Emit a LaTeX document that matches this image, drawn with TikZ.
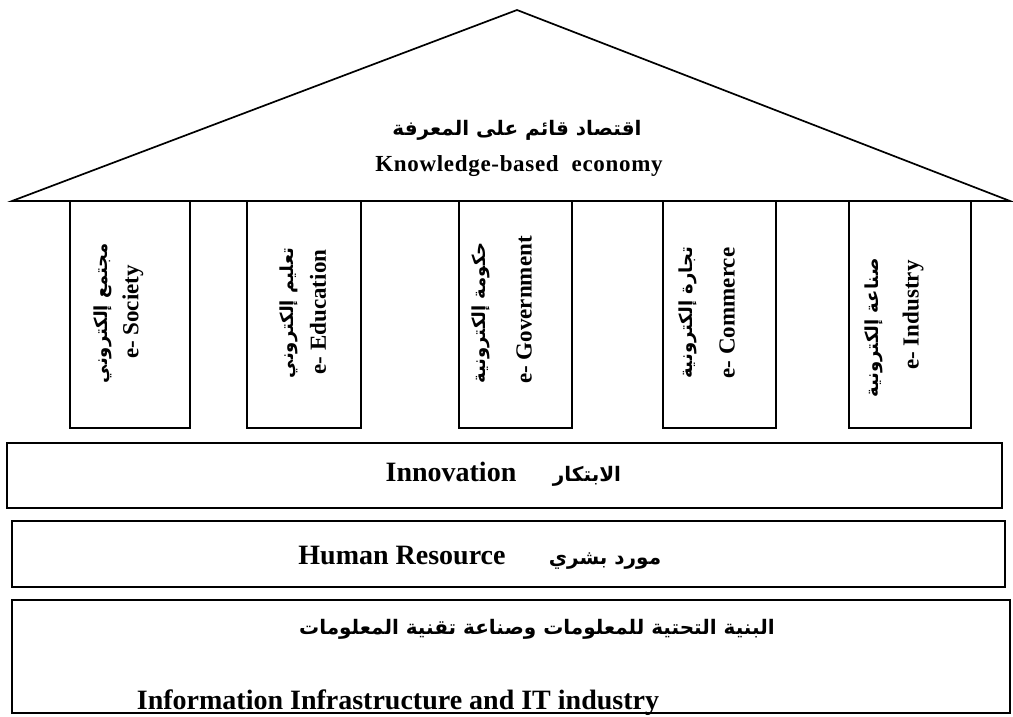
\documentclass[tikz,border=0pt]{standalone}
\usepackage{fontspec}
\setmainfont{Liberation Serif}
\newfontfamily\arabicfont[Script=Arabic]{DejaVu Sans}
\TeXXeTstate=1
\begin{document}
\begin{tikzpicture}[x=1pt,y=-1pt,
  shape line/.style={draw=black,line width=1.7pt,fill=white},
  en/.style={font=\fontsize{#1}{#1}\selectfont\bfseries,inner sep=0pt},
  ar/.style={font=\fontsize{#1}{#1}\arabicfont\bfseries,inner sep=0pt}]
\useasboundingbox[fill=white] (0,0) rectangle (1013,717);
% roof
\draw[shape line] (12,201) -- (517,10) -- (1010,201) -- cycle;
\node[ar=20] (roofar) at (517,130) {\beginR اقتصاد قائم على المعرفة\endR};
\node[en=23] (roofen) at (519,166) {\addfontfeature{LetterSpace=3}Knowledge-based\ \ economy};
% pillars
\draw[shape line] (70,201) rectangle (190,428);
\draw[shape line] (247,201) rectangle (361,428);
\draw[shape line] (459,201) rectangle (572,428);
\draw[shape line] (663,201) rectangle (776,428);
\draw[shape line] (849,201) rectangle (971,428);
\node[ar=18,rotate=90] (p1a) at (103,313) {\beginR مجتمع إلكتروني\endR};
\node[en=23,rotate=90] (p1e) at (133,312) {e- Society};
\node[ar=18,rotate=90] (p2a) at (289,313) {\beginR تعليم إلكتروني\endR};
\node[en=23,rotate=90] (p2e) at (318,312) {e- Education};
\node[ar=18,rotate=90] (p3a) at (481,313) {\beginR حكومة إلكترونية\endR};
\node[en=23,rotate=90] (p3e) at (524,310) {e- Government};
\node[ar=18,rotate=90] (p4a) at (688,313) {\beginR تجارة إلكترونية\endR};
\node[en=23,rotate=90] (p4e) at (727,313) {e- Commerce};
\node[ar=18,rotate=90] (p5a) at (874,328) {\beginR صناعة إلكترونية\endR};
\node[en=23,rotate=90] (p5e) at (913,315) {e- Industry};
% bands
\draw[shape line] (7,443) rectangle (1002,508);
\node[en=28,anchor=base] (innen) at (451,481) {Innovation};
\node[ar=20,anchor=base] (innar) at (587,481) {\beginR الابتكار\endR};
\draw[shape line] (12,521) rectangle (1005,587);
\node[en=28,anchor=base] (hren) at (402,564) {Human Resource};
\node[ar=20,anchor=base] (hrar) at (605,564) {\beginR مورد بشري\endR};
\draw[shape line] (12,600) rectangle (1010,713);
\node[ar=20,anchor=base] (infar) at (537,634) {\beginR البنية التحتية  للمعلومات وصناعة تقنية المعلومات\endR};
\node[en=28,anchor=base] (infen) at (398,709) {Information Infrastructure and IT industry};
\end{tikzpicture}
\end{document}
